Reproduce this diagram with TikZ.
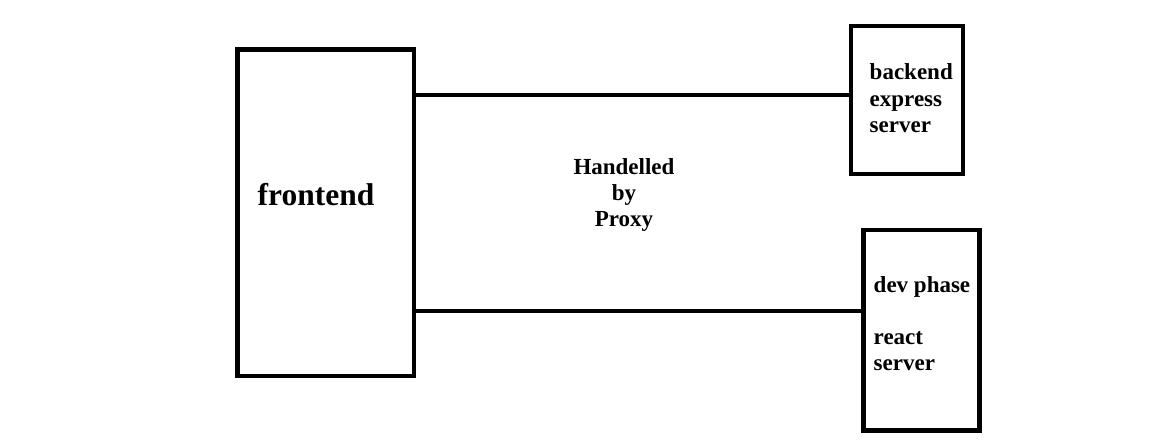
\documentclass[tikz,border=0pt]{standalone}
\usepackage{fontspec}
\setmainfont{Liberation Serif}
\begin{document}
\begin{tikzpicture}[x=1pt,y=1pt,
  box/.style={draw=black,line width=4.8pt},
  link/.style={draw=black,line width=4.8pt},
  lbl/.style={inner sep=0pt,font=\fontsize{23}{27}\selectfont\bfseries},
  big/.style={inner sep=0pt,font=\fontsize{31.5}{36}\selectfont\bfseries}]
\useasboundingbox (0,0) rectangle (1161,446);
% boxes
\coordinate (fsw) at (237.5,70);
\coordinate (fne) at (414,396.5);
\draw[box] (fsw) rectangle (fne);
\coordinate (bsw) at (851,272);
\coordinate (bne) at (963,420);
\draw[box] (bsw) rectangle (bne);
\coordinate (rsw) at (863.5,15.5);
\coordinate (rne) at (979.5,216);
\draw[box] (rsw) rectangle (rne);
% connectors
\coordinate (t1) at (414,351);
\coordinate (t2) at (851,351);
\coordinate (b1) at (414,135);
\coordinate (b2) at (863.5,135);
\draw[link] (t1) -- (t2);
\draw[link] (b1) -- (b2);
% labels
\node[big,anchor=base] (fe) at (316,240) {frontend};
\node[lbl,anchor=base west] (be1) at (869.5,366) {backend};
\node[lbl,anchor=base west] (be2) at (869.5,339.5) {express};
\node[lbl,anchor=base west] (be3) at (869.5,313.5) {server};
\node[lbl,anchor=base] (h1) at (624,271) {Handelled};
\node[lbl,anchor=base] (h2) at (624,245) {by};
\node[lbl,anchor=base] (h3) at (624,219) {Proxy};
\node[lbl,anchor=base west] (r1) at (873.5,153.5) {dev phase};
\node[lbl,anchor=base west] (r2) at (873.5,101) {react};
\node[lbl,anchor=base west] (r3) at (873.5,75.5) {server};
\end{tikzpicture}
\end{document}
